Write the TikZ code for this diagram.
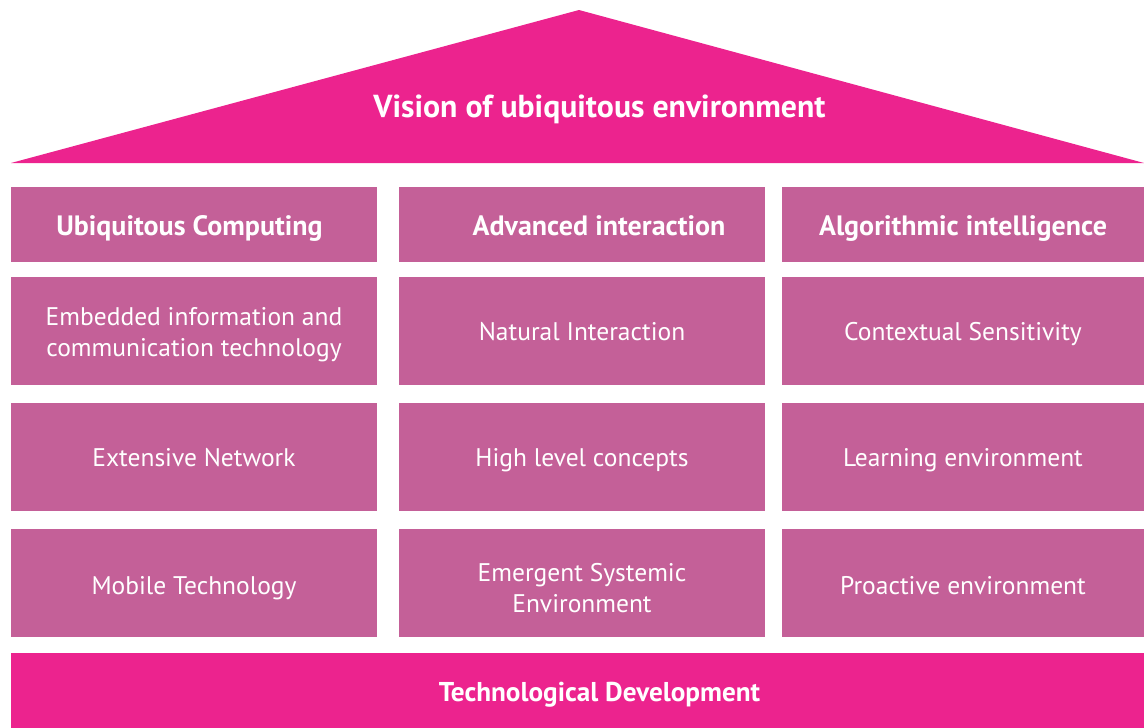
\documentclass[tikz,border=0pt]{standalone}
\usepackage{fontspec}
\setmainfont{PT Sans}
\definecolor{roofpink}{RGB}{236,35,142}
\definecolor{boxpink}{RGB}{196,96,152}
\tikzset{
  cell/.style={fill=boxpink,text=white,minimum width=366pt,minimum height=108pt,align=center,inner sep=0pt,
    font=\fontsize{25.5}{31}\selectfont,text height=18pt,text depth=0pt},
  twolines/.style={text height=51pt},
  headcell/.style={cell,minimum height=75pt,font=\fontsize{28}{32}\selectfont\bfseries,text height=21pt},
  bigtext/.style={text=white,inner sep=0pt,anchor=base,font=\fontsize{27.2}{32}\selectfont\bfseries}
}
\begin{document}
\begin{tikzpicture}[x=1pt,y=-1pt]
        \useasboundingbox (0,0) rectangle (1144,728);
        %tetto
        \fill[roofpink] (11,163) -- (579,10) -- (1144,163) -- cycle;
        \node[bigtext,font=\fontsize{31.8}{36}\selectfont\bfseries] (vision) at (599.5,117) {Vision of ubiquitous environment};
        %intestazioni
        \node[headcell] (uc) at (194,224.5) {Ubiquitous Computing\hspace*{9pt}};
        \node[headcell] (ai) at (582,224.5) {\hspace*{34pt}Advanced interaction};
        \node[headcell,minimum width=362pt] (al) at (963,224.5) {Algorithmic intelligence};
        %prima colonna
        \node[cell,twolines] (embedded) at (194,331) {Embedded information and\\communication technology};
        \node[cell] (network) at (194,457) {Extensive Network};
        \node[cell,text height=22pt] (mobile) at (194,583) {Mobile Technology};
        %seconda colonna
        \node[cell] (natural) at (582,331) {Natural Interaction};
        \node[cell] (concepts) at (582,457) {High level concepts};
        \node[cell,text height=58pt] (emergent) at (582,583) {Emergent Systemic\\Environment};
        %terza colonna
        \node[cell,minimum width=362pt] (context) at (963,331) {Contextual Sensitivity};
        \node[cell,minimum width=362pt] (learning) at (963,457) {Learning environment};
        \node[cell,minimum width=362pt,text height=22pt] (proactive) at (963,583) {Proactive environment};
        %base
        \fill[roofpink] (11,653) rectangle (1144,728);
        \node[bigtext] (techdev) at (599.5,701) {Technological Development};
    \end{tikzpicture}
\end{document}
